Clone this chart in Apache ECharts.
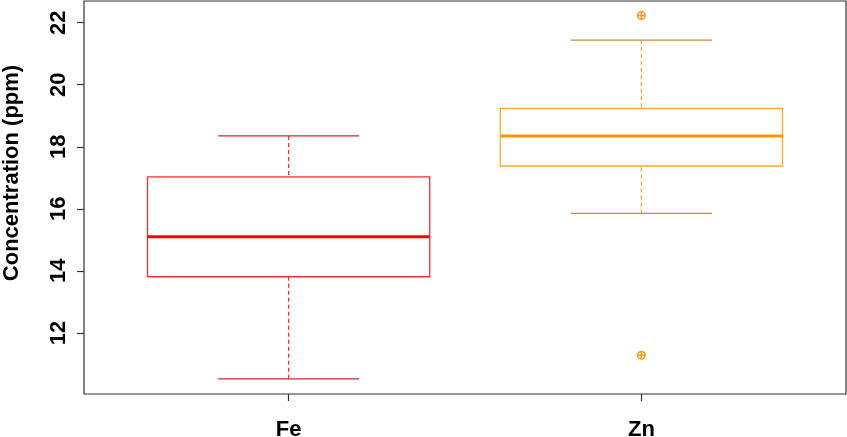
<!DOCTYPE html>
<html>
<head>
<meta charset="utf-8">
<script src="https://cdn.jsdelivr.net/npm/echarts@6/dist/echarts.min.js"></script>
<style>
  html, body { margin: 0; padding: 0; background: #fff; }
  #chart { width: 847px; height: 437px; }
</style>
</head>
<body>
<div id="chart"></div>
<script>
// box statistics
const categories = ['Fe', 'Zn'];
const lowerWhisker = [10.52, 15.85];
const q1 = [13.81, 17.38];
const median = [15.10, 18.35];
const q3 = [17.03, 19.24];
const upperWhisker = [18.35, 21.44];
// outliers: category index + value
const outlierCat = [1, 1];
const outlierVal = [22.23, 11.28];
const yTicks = [12, 14, 16, 18, 20, 22];

const boxColor = ['#ff2a2a', '#ffa629'];
const medianColor = ['#ff0000', '#ff9500'];
const capColor = ['#d42a2a', '#c98a3c'];

const boxData = categories.map((c, i) => [i + 1, lowerWhisker[i], q1[i], median[i], q3[i], upperWhisker[i]]);
const outlierData = outlierCat.map((c, i) => [c + 1, outlierVal[i]]);

function renderBox (params, api) {
    let i = params.dataIndex;
    let x = api.value(0);
    let lo = api.coord([x, api.value(1)]);
    let b1 = api.coord([x - 0.4, api.value(2)]);
    let b2 = api.coord([x + 0.4, api.value(4)]);
    let m1 = api.coord([x - 0.4, api.value(3)]);
    let m2 = api.coord([x + 0.4, api.value(3)]);
    let hi = api.coord([x, api.value(5)]);
    let capL = api.coord([x - 0.2, 0])[0];
    let capR = api.coord([x + 0.2, 0])[0];
    let dash = { stroke: boxColor[i], lineWidth: 1.3, lineDash: [4, 3] };
    let cap = { stroke: capColor[i], lineWidth: 1.3 };
    return {
        type: 'group',
        children: [
            { type: 'line', shape: { x1: hi[0], y1: hi[1], x2: hi[0], y2: b2[1] }, style: dash },
            { type: 'line', shape: { x1: lo[0], y1: lo[1], x2: lo[0], y2: b1[1] }, style: dash },
            { type: 'line', shape: { x1: capL, y1: hi[1], x2: capR, y2: hi[1] }, style: cap },
            { type: 'line', shape: { x1: capL, y1: lo[1], x2: capR, y2: lo[1] }, style: cap },
            {
                type: 'rect',
                shape: { x: b1[0], y: b2[1], width: b2[0] - b1[0], height: b1[1] - b2[1] },
                style: { fill: 'none', stroke: boxColor[i], lineWidth: 1.3 }
            },
            { type: 'line', shape: { x1: m1[0], y1: m1[1], x2: m2[0], y2: m2[1] }, style: { stroke: medianColor[i], lineWidth: 3 } }
        ]
    };
}

function renderOutlier (params, api) {
    let p = api.coord([api.value(0), api.value(1)]);
    let r = 3.8;
    let st = { stroke: '#ff9a1a', lineWidth: 1.5, fill: 'none' };
    return {
        type: 'group',
        children: [
            { type: 'circle', shape: { cx: p[0], cy: p[1], r: r }, style: st },
            { type: 'line', shape: { x1: p[0] - r, y1: p[1], x2: p[0] + r, y2: p[1] }, style: st },
            { type: 'line', shape: { x1: p[0], y1: p[1] - r, x2: p[0], y2: p[1] + r }, style: st }
        ]
    };
}

const chart = echarts.init(document.getElementById('chart'));
chart.setOption({
    animation: false,
    backgroundColor: '#fff',
    textStyle: { fontFamily: 'Liberation Sans, Arial, sans-serif' },
    grid: {
        left: 84, right: 1, top: 1, bottom: 43,
        outerBoundsMode: 'none',
        containLabel: false,
        show: true, borderColor: '#333', borderWidth: 1.2, backgroundColor: 'transparent'
    },
    // y axis title, sits a little above the middle like the original
    graphic: [{
        type: 'text',
        x: 12,
        y: 173,
        rotation: Math.PI / 2,
        style: {
            text: 'Concentration (ppm)',
            fill: '#000',
            font: 'bold 22px "Liberation Sans", Arial, sans-serif',
            align: 'center',
            verticalAlign: 'middle'
        }
    }],
    xAxis: {
        type: 'value',
        min: 0.42,
        max: 2.58,
        splitLine: { show: false },
        axisLine: { show: false },
        axisTick: { show: true, length: 7, lineStyle: { color: '#333', width: 1.2 }, customValues: [1, 2] },
        axisLabel: {
            customValues: [1, 2],
            formatter: v => categories[Math.round(v) - 1],
            color: '#000', fontSize: 22, fontWeight: 'bold', margin: 25
        }
    },
    yAxis: {
        type: 'value',
        min: 10.03,
        max: 22.70,
        splitLine: { show: false },
        axisLine: { show: false },
        axisTick: { show: true, length: 7, lineStyle: { color: '#333', width: 1.2 }, customValues: yTicks },
        axisLabel: {
            customValues: yTicks,
            rotate: 90,
            color: '#000', fontSize: 22, fontWeight: 'bold', margin: 14
        }
    },
    series: [
        { type: 'custom', renderItem: renderBox, data: boxData, encode: { x: 0, y: [1, 2, 3, 4, 5] } },
        { type: 'custom', renderItem: renderOutlier, data: outlierData, encode: { x: 0, y: 1 } }
    ]
});
</script>
</body>
</html>
